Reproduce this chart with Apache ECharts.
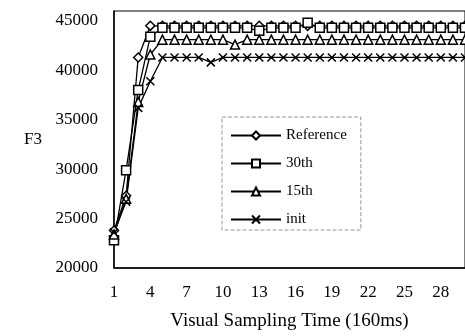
<!DOCTYPE html>
<html>
<head>
<meta charset="utf-8">
<script src="https://cdn.jsdelivr.net/npm/echarts@6/dist/echarts.min.js"></script>
<style>
  html, body { margin: 0; padding: 0; background: #fff; }
  #chart { width: 465px; height: 336px; }
</style>
</head>
<body>
<div id="chart"></div>
<script>
const samples = ["1","2","3","4","5","6","7","8","9","10","11","12","13","14","15",
  "16","17","18","19","20","21","22","23","24","25","26","27","28","29","30"];

const reference = [23800, 27300, 41300, 44500, 44500, 44500, 44500, 44500, 44500, 44500,
  44500, 44500, 44500, 44500, 44500, 44500, 44500, 44500, 44500, 44500,
  44500, 44500, 44500, 44500, 44500, 44500, 44500, 44500, 44500, 44500];
const run30th = [22800, 29900, 38000, 43400, 44300, 44300, 44300, 44300, 44300, 44300,
  44300, 44300, 44000, 44300, 44300, 44300, 44800, 44300, 44300, 44300,
  44300, 44300, 44300, 44300, 44300, 44300, 44300, 44300, 44300, 44300];
const run15th = [23400, 27000, 36800, 41600, 43100, 43100, 43100, 43100, 43100, 43100,
  42600, 43100, 43100, 43100, 43100, 43100, 43100, 43100, 43100, 43100,
  43100, 43100, 43100, 43100, 43100, 43100, 43100, 43100, 43100, 43100];
const runInit = [23600, 26700, 36200, 38900, 41300, 41300, 41300, 41300, 40800, 41300,
  41300, 41300, 41300, 41300, 41300, 41300, 41300, 41300, 41300, 41300,
  41300, 41300, 41300, 41300, 41300, 41300, 41300, 41300, 41300, 41300];

const font = "'Liberation Serif', 'Times New Roman', serif";
const crossPath = "path://M0,0L10,10M10,0L0,10";

function makeSeries(name, data, symbol, size) {
  return {
    name: name,
    type: "line",
    data: data,
    symbol: symbol,
    symbolSize: size,
    showAllSymbol: true,
    lineStyle: { color: "#000", width: 1.3 },
    itemStyle: { color: "#fff", borderColor: "#000", borderWidth: 1.5 },
    emphasis: { disabled: true },
    animation: false
  };
}

const chart = echarts.init(document.getElementById("chart"), null, { renderer: "canvas" });

const option = {
  animation: false,
  grid: {
    left: 114,
    top: 11,
    bottom: 64,
    right: -12,
    show: true,
    borderColor: "#000",
    borderWidth: 1
  },
  legend: {
    orient: "vertical",
    left: 222,
    top: 117,
    itemWidth: 50,
    itemHeight: 10,
    itemGap: 13,
    padding: [11, 14, 3, 8],
    borderColor: "#999",
    borderType: "dashed",
    borderWidth: 1,
    textStyle: { fontFamily: font, fontSize: 15, color: "#000", lineHeight: 14 },
    data: ["Reference", "30th", "15th", "init"]
  },
  xAxis: {
    type: "category",
    data: samples,
    boundaryGap: false,
    name: "Visual Sampling Time (160ms)",
    nameLocation: "middle",
    nameGap: 44,
    nameTextStyle: { fontFamily: font, fontSize: 19, color: "#000" },
    axisLine: { lineStyle: { color: "#000", width: 1.5 } },
    axisTick: { show: false },
    axisLabel: { interval: 2, margin: 16, fontFamily: font, fontSize: 17, color: "#000" },
    splitLine: { show: false }
  },
  yAxis: {
    type: "value",
    min: 20000,
    max: 46000,
    interval: 5000,
    name: "F3",
    nameLocation: "middle",
    nameRotate: 0,
    nameGap: 72,
    nameTextStyle: { fontFamily: font, fontSize: 17, color: "#000" },
    axisLine: { show: true, lineStyle: { color: "#000", width: 1.5 } },
    axisTick: { show: false },
    axisLabel: {
      margin: 16,
      showMaxLabel: false,
      formatter: function (v) { return String(v); },
      fontFamily: font,
      fontSize: 17,
      color: "#000"
    },
    splitLine: { show: false }
  },
  series: [
    makeSeries("Reference", reference, "diamond", 9),
    makeSeries("30th", run30th, "rect", 9),
    makeSeries("15th", run15th, "triangle", 9),
    makeSeries("init", runInit, crossPath, 8)
  ]
};

chart.setOption(option);
</script>
</body>
</html>
